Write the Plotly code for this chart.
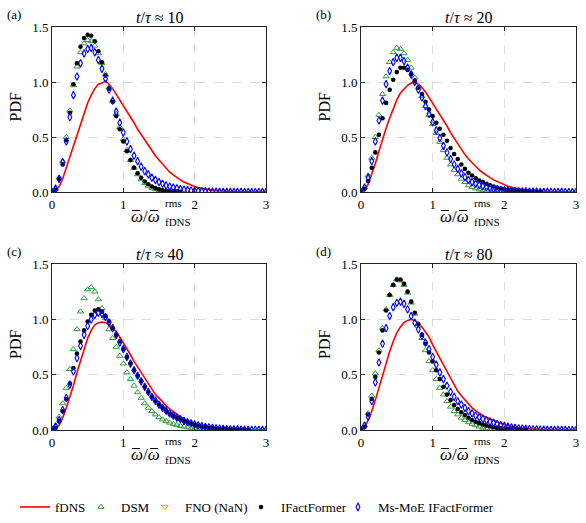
import plotly.graph_objects as go

# ---------------- data ----------------
X = [0.00, 0.05, 0.10, 0.15, 0.20, 0.25, 0.30, 0.35, 0.40, 0.45,
     0.50, 0.55, 0.60, 0.65, 0.70, 0.75, 0.80, 0.85, 0.90, 0.95,
     1.00, 1.05, 1.10, 1.15, 1.20, 1.25, 1.30, 1.35, 1.40, 1.45,
     1.50, 1.55, 1.60, 1.65, 1.70, 1.75, 1.80, 1.85, 1.90, 1.95,
     2.00, 2.05, 2.10, 2.15, 2.20, 2.25, 2.30, 2.35, 2.40, 2.45,
     2.50, 2.55, 2.60, 2.65, 2.70, 2.75, 2.80, 2.85, 2.90, 2.95,
     3.00]
N = None

TITLES = ["<i>t</i>/<i>τ</i> ≈ 10", "<i>t</i>/<i>τ</i> ≈ 20",
          "<i>t</i>/<i>τ</i> ≈ 40", "<i>t</i>/<i>τ</i> ≈ 80"]
PANEL_LABELS = ["(a)", "(b)", "(c)", "(d)"]
SERIES_NAMES = ["fDNS", "DSM", "FNO (NaN)", "IFactFormer", "Ms-MoE IFactFormer"]
X_TICKS = [0, 1, 2, 3]
Y_TICKS = [0.0, 0.5, 1.0, 1.5]
Y_TICKTEXT = ["0.0", "0.5", "1.0", "1.5"]

# ---- panel (a) t/tau ~ 10 ----
FDNS_A = [0.00, 0.01, 0.05, 0.12, 0.22, 0.32, 0.43, 0.53, 0.63, 0.72,
          0.81, 0.88, 0.94, 0.98, 0.99, 1.01, 0.98, 0.94, 0.89, 0.84,
          0.79, 0.74, 0.68, 0.63, 0.57, 0.52, 0.47, 0.42, 0.37, 0.33,
          0.29, 0.25, 0.21, 0.18, 0.155, 0.13, 0.11, 0.09, 0.075, 0.06,
          0.05, 0.04, 0.032, 0.025, 0.02, 0.015, 0.012, 0.009, 0.007, 0.005,
          0.004, 0.003, 0.003, 0.002, 0.002, 0.001, 0.001, 0.001, 0.001, 0.0,
          0.0]
DSM_A = [0.00, 0.03, 0.13, 0.28, 0.50, 0.74, 0.97, 1.14, 1.27, 1.35,
         1.38, 1.37, 1.33, 1.26, 1.17, 1.07, 0.95, 0.83, 0.71, 0.59,
         0.48, 0.38, 0.29, 0.22, 0.16, 0.115, 0.08, 0.055, 0.037, 0.024,
         0.015, 0.009, 0.005, 0.003, 0.002, 0.001, N, N, N, N,
         N, N, N, N, N, N, N, N, N, N,
         N, N, N, N, N, N, N, N, N, N,
         N]
IFF_A = [0.00, 0.02, 0.12, 0.25, 0.47, 0.72, 0.98, 1.17, 1.32, 1.40,
         1.43, 1.42, 1.37, 1.28, 1.18, 1.06, 0.94, 0.82, 0.69, 0.57,
         0.46, 0.37, 0.29, 0.22, 0.17, 0.13, 0.095, 0.07, 0.05, 0.035,
         0.024, 0.016, 0.01, 0.006, 0.004, 0.002, 0.001, N, N, N,
         N, N, N, N, N, N, N, N, N, N,
         N, N, N, N, N, N, N, N, N, N,
         N]
MOE_A = [0.00, 0.03, 0.12, 0.27, 0.46, 0.68, 0.88, 1.05, 1.17, 1.26,
         1.30, 1.31, 1.27, 1.20, 1.12, 1.03, 0.93, 0.83, 0.73, 0.63,
         0.54, 0.46, 0.39, 0.33, 0.28, 0.23, 0.19, 0.16, 0.13, 0.11,
         0.09, 0.075, 0.06, 0.05, 0.04, 0.033, 0.027, 0.022, 0.018, 0.014,
         0.011, 0.009, 0.007, 0.005, 0.004, 0.003, 0.003, 0.002, 0.002, 0.001,
         0.001, 0.001, 0.001, 0.001, 0.0, 0.0, 0.0, 0.0, 0.0, 0.0,
         0.0]

# ---- panel (b) t/tau ~ 20 ----
FDNS_B = [0.00, 0.02, 0.07, 0.16, 0.26, 0.37, 0.48, 0.58, 0.67, 0.75,
          0.84, 0.90, 0.94, 0.97, 0.99, 0.995, 0.98, 0.95, 0.91, 0.86,
          0.81, 0.76, 0.71, 0.65, 0.60, 0.54, 0.49, 0.43, 0.38, 0.34,
          0.30, 0.265, 0.23, 0.20, 0.175, 0.15, 0.13, 0.11, 0.095, 0.08,
          0.065, 0.053, 0.043, 0.035, 0.028, 0.022, 0.017, 0.013, 0.01, 0.008,
          0.006, 0.005, 0.004, 0.003, 0.002, 0.002, 0.001, 0.001, 0.001, 0.0,
          0.0]
DSM_B = [0.00, 0.04, 0.15, 0.31, 0.50, 0.70, 0.89, 1.05, 1.18, 1.27,
         1.31, 1.30, 1.26, 1.20, 1.13, 1.04, 0.95, 0.87, 0.78, 0.70,
         0.615, 0.535, 0.455, 0.38, 0.31, 0.25, 0.20, 0.16, 0.12, 0.09,
         0.06, 0.045, 0.032, 0.022, 0.015, 0.01, 0.006, 0.004, 0.002, 0.001,
         N, N, N, N, N, N, N, N, N, N,
         N, N, N, N, N, N, N, N, N, N,
         N]
IFF_B = [0.00, 0.03, 0.10, 0.22, 0.36, 0.52, 0.67, 0.81, 0.93, 1.02,
         1.09, 1.13, 1.13, 1.11, 1.07, 1.01, 0.95, 0.89, 0.82, 0.75,
         0.69, 0.63, 0.575, 0.52, 0.465, 0.40, 0.345, 0.30, 0.25, 0.21,
         0.175, 0.15, 0.125, 0.105, 0.09, 0.075, 0.062, 0.05, 0.04, 0.032,
         0.026, 0.021, 0.017, 0.013, 0.01, 0.008, 0.006, 0.004, 0.003, 0.002,
         0.001, N, N, N, N, N, N, N, N, N,
         N]
MOE_B = [0.00, 0.04, 0.13, 0.28, 0.46, 0.65, 0.83, 0.98, 1.10, 1.18,
         1.22, 1.22, 1.19, 1.13, 1.07, 1.00, 0.93, 0.86, 0.78, 0.71,
         0.635, 0.56, 0.49, 0.42, 0.36, 0.30, 0.25, 0.21, 0.17, 0.135,
         0.11, 0.09, 0.075, 0.063, 0.053, 0.044, 0.036, 0.03, 0.025, 0.02,
         0.016, 0.013, 0.011, 0.009, 0.007, 0.006, 0.005, 0.004, 0.003, 0.003,
         0.002, 0.002, 0.002, 0.001, 0.001, 0.001, 0.001, 0.0, 0.0, 0.0,
         0.0]

# ---- panel (c) t/tau ~ 40 ----
FDNS_C = [0.00, 0.01, 0.04, 0.11, 0.20, 0.29, 0.40, 0.52, 0.63, 0.73,
          0.83, 0.90, 0.95, 0.97, 0.975, 0.97, 0.95, 0.92, 0.89, 0.84,
          0.79, 0.74, 0.68, 0.62, 0.57, 0.51, 0.46, 0.41, 0.36, 0.32,
          0.29, 0.25, 0.22, 0.19, 0.165, 0.14, 0.12, 0.10, 0.085, 0.07,
          0.057, 0.046, 0.037, 0.03, 0.024, 0.019, 0.015, 0.012, 0.009, 0.007,
          0.005, 0.004, 0.003, 0.003, 0.002, 0.002, 0.001, 0.001, 0.001, 0.001,
          0.0]
DSM_C = [0.00, 0.04, 0.12, 0.24, 0.38, 0.55, 0.73, 0.91, 1.07, 1.19,
         1.27, 1.29, 1.25, 1.18, 1.10, 1.01, 0.91, 0.83, 0.75, 0.67,
         0.60, 0.52, 0.46, 0.40, 0.34, 0.29, 0.24, 0.20, 0.17, 0.14,
         0.115, 0.095, 0.08, 0.066, 0.055, 0.045, 0.037, 0.03, 0.024, 0.019,
         0.015, 0.011, 0.008, 0.006, 0.004, 0.003, 0.002, 0.001, N, N,
         N, N, N, N, N, N, N, N, N, N,
         N]
IFF_C = [0.00, 0.02, 0.08, 0.17, 0.28, 0.42, 0.56, 0.69, 0.80, 0.90,
         0.98, 1.04, 1.08, 1.09, 1.07, 1.03, 0.98, 0.92, 0.86, 0.80,
         0.73, 0.66, 0.60, 0.54, 0.49, 0.44, 0.39, 0.34, 0.30, 0.26,
         0.23, 0.20, 0.17, 0.145, 0.125, 0.11, 0.095, 0.08, 0.067, 0.056,
         0.047, 0.039, 0.032, 0.026, 0.021, 0.017, 0.014, 0.011, 0.009, 0.007,
         0.005, 0.004, 0.003, 0.002, 0.002, 0.001, N, N, N, N,
         N]
MOE_C = [0.00, 0.03, 0.09, 0.18, 0.29, 0.41, 0.53, 0.65, 0.76, 0.86,
         0.94, 1.00, 1.04, 1.06, 1.05, 1.02, 0.97, 0.92, 0.86, 0.79,
         0.73, 0.66, 0.60, 0.54, 0.49, 0.44, 0.39, 0.345, 0.30, 0.265,
         0.23, 0.20, 0.175, 0.15, 0.13, 0.112, 0.097, 0.083, 0.07, 0.06,
         0.05, 0.042, 0.035, 0.029, 0.024, 0.02, 0.016, 0.013, 0.011, 0.009,
         0.007, 0.006, 0.005, 0.004, 0.003, 0.002, 0.002, 0.001, 0.001, 0.001,
         0.0]

# ---- panel (d) t/tau ~ 80 ----
FDNS_D = [0.00, 0.02, 0.09, 0.17, 0.27, 0.38, 0.50, 0.61, 0.71, 0.80,
          0.88, 0.93, 0.97, 0.99, 1.00, 0.99, 0.965, 0.93, 0.89, 0.84,
          0.77, 0.71, 0.65, 0.58, 0.52, 0.46, 0.40, 0.35, 0.31, 0.27,
          0.235, 0.20, 0.175, 0.15, 0.13, 0.115, 0.10, 0.085, 0.07, 0.058,
          0.047, 0.038, 0.03, 0.024, 0.019, 0.015, 0.012, 0.009, 0.007, 0.005,
          0.004, 0.003, 0.003, 0.002, 0.002, 0.001, 0.001, 0.001, 0.001, 0.0,
          0.0]
DSM_D = [0.00, 0.04, 0.15, 0.31, 0.51, 0.72, 0.92, 1.09, 1.22, 1.31,
         1.36, 1.35, 1.31, 1.24, 1.15, 1.05, 0.94, 0.83, 0.72, 0.62,
         0.54, 0.46, 0.38, 0.32, 0.26, 0.21, 0.17, 0.14, 0.11, 0.09,
         0.07, 0.055, 0.042, 0.03, 0.02, 0.013, 0.008, 0.005, 0.003, 0.002,
         0.001, N, N, N, N, N, N, N, N, N,
         N, N, N, N, N, N, N, N, N, N,
         N]
IFF_D = [0.00, 0.03, 0.14, 0.28, 0.48, 0.70, 0.90, 1.08, 1.22, 1.31,
         1.36, 1.36, 1.32, 1.25, 1.16, 1.06, 0.96, 0.86, 0.78, 0.70,
         0.62, 0.54, 0.46, 0.39, 0.32, 0.27, 0.225, 0.19, 0.16, 0.135,
         0.11, 0.09, 0.075, 0.062, 0.05, 0.04, 0.032, 0.025, 0.02, 0.015,
         0.011, 0.008, 0.006, 0.004, 0.003, 0.002, 0.001, N, N, N,
         N, N, N, N, N, N, N, N, N, N,
         N]
MOE_D = [0.00, 0.04, 0.12, 0.26, 0.43, 0.61, 0.78, 0.92, 1.03, 1.11,
         1.15, 1.16, 1.14, 1.09, 1.03, 0.97, 0.91, 0.85, 0.79, 0.73,
         0.66, 0.59, 0.52, 0.46, 0.40, 0.345, 0.30, 0.26, 0.23, 0.20,
         0.17, 0.15, 0.13, 0.115, 0.10, 0.087, 0.075, 0.064, 0.054, 0.045,
         0.037, 0.03, 0.025, 0.02, 0.016, 0.013, 0.01, 0.008, 0.006, 0.005,
         0.004, 0.003, 0.002, 0.002, 0.001, 0.001, 0.001, 0.001, 0.0, 0.0,
         0.0]

PANELS = [
    (FDNS_A, DSM_A, IFF_A, MOE_A),
    (FDNS_B, DSM_B, IFF_B, MOE_B),
    (FDNS_C, DSM_C, IFF_C, MOE_C),
    (FDNS_D, DSM_D, IFF_D, MOE_D),
]

# ---------------- layout geometry (pixels) ----------------
W, H = 586, 523
FONT = "Liberation Serif"
RED = "#ff0000"
GREEN = "#2e9e3e"
ORANGE = "#f0a020"
BLACK = "#000000"
BLUE = "#0000ff"

# plot-area boxes in pixels: (left, right, top, bottom)
BOXES = [(52, 266, 27, 192), (361, 576, 27, 192),
         (52, 266, 264, 430), (361, 576, 264, 430)]
# legend entry left edges (pixels) and vertical centre
LEGEND_X = [15, 81, 145, 241, 338]
LEGEND_Y = 507


def px(xp):
    return xp / W


def py(yp):
    return 1 - yp / H


LEG_IDS = ["legend", "legend2", "legend3", "legend4", "legend5"]

fig = go.Figure()
for k, (fd, dsm, iff, moe) in enumerate(PANELS):
    sfx = "" if k == 0 else str(k + 1)
    xa, ya = "x" + sfx, "y" + sfx
    first = k == 0
    fig.add_trace(go.Scatter(x=X, y=fd, mode="lines", name=SERIES_NAMES[0],
                             line=dict(color=RED, width=1.6),
                             xaxis=xa, yaxis=ya, showlegend=first,
                             legend=LEG_IDS[0]))
    fig.add_trace(go.Scatter(x=X, y=dsm, mode="markers", name=SERIES_NAMES[1],
                             marker=dict(symbol="triangle-up-open", color=GREEN,
                                         size=5.5, line=dict(width=1.0)),
                             xaxis=xa, yaxis=ya, showlegend=first,
                             legend=LEG_IDS[1]))
    if first:
        fig.add_trace(go.Scatter(x=[None], y=[None], mode="markers",
                                 name=SERIES_NAMES[2],
                                 marker=dict(symbol="triangle-down-open",
                                             color=ORANGE, size=5.5,
                                             line=dict(width=1.0)),
                                 xaxis=xa, yaxis=ya, showlegend=True,
                                 legend=LEG_IDS[2]))
    fig.add_trace(go.Scatter(x=X, y=iff, mode="markers", name=SERIES_NAMES[3],
                             marker=dict(symbol="circle", color=BLACK, size=4.6),
                             xaxis=xa, yaxis=ya, showlegend=first,
                             legend=LEG_IDS[3]))
    fig.add_trace(go.Scatter(x=X, y=moe, mode="markers", name=SERIES_NAMES[4],
                             marker=dict(symbol="diamond-tall-open", color=BLUE,
                                         size=5.5, line=dict(width=1.1)),
                             xaxis=xa, yaxis=ya, showlegend=first,
                             legend=LEG_IDS[4]))

layout = dict(
    width=W, height=H,
    margin=dict(l=0, r=0, t=0, b=0, autoexpand=False),
    paper_bgcolor="white", plot_bgcolor="white",
    font=dict(family=FONT, size=13, color="black"),
    showlegend=True,
)
for lid, lx in zip(LEG_IDS, LEGEND_X):
    layout[lid] = dict(orientation="h", x=px(lx), xanchor="left",
                       y=py(LEGEND_Y), yanchor="middle",
                       font=dict(family=FONT, size=13, color="black"),
                       bgcolor="rgba(0,0,0,0)", borderwidth=0)

axis_common = dict(
    showline=True, linecolor="#222222", linewidth=1, mirror="ticks",
    ticks="inside", ticklen=4, tickwidth=1, tickcolor="#222222",
    showgrid=True, gridcolor="#dcdcdc", griddash="dash", gridwidth=1,
    zeroline=False, tickfont=dict(family=FONT, size=13, color="black"),
    fixedrange=True, automargin=False,
)

annotations = []
shapes = []
for k, (l, r, t, b) in enumerate(BOXES):
    sfx = "" if k == 0 else str(k + 1)
    layout["xaxis" + sfx] = dict(axis_common, domain=[px(l), px(r)],
                                 range=[0, 3], tickvals=X_TICKS,
                                 anchor="y" + sfx)
    layout["yaxis" + sfx] = dict(axis_common, domain=[py(b), py(t)],
                                 range=[0, 1.5], tickvals=Y_TICKS,
                                 ticktext=Y_TICKTEXT, anchor="x" + sfx)
    cx = (l + r) / 2
    # panel title
    annotations.append(dict(text=TITLES[k], x=px(cx), y=py(t - 10),
                            xref="paper", yref="paper", showarrow=False,
                            xanchor="center", yanchor="middle",
                            font=dict(family=FONT, size=16)))
    # panel label
    annotations.append(dict(text=PANEL_LABELS[k], x=px(l - 47), y=py(t - 12),
                            xref="paper", yref="paper", showarrow=False,
                            xanchor="left", yanchor="middle",
                            font=dict(family=FONT, size=13)))
    # y title
    annotations.append(dict(text="PDF", x=px(l - 37), y=py((t + b) / 2 - 2),
                            xref="paper", yref="paper", showarrow=False,
                            xanchor="center", yanchor="middle", textangle=-90,
                            font=dict(family=FONT, size=16)))
    # x title: omega/omega with macrons, plus stacked rms / fDNS
    xs = l + 110
    annotations.append(dict(text="<i>ω</i>/<i>ω</i>", x=px(xs), y=py(b + 24),
                            xref="paper", yref="paper", showarrow=False,
                            xanchor="right", yanchor="middle",
                            font=dict(family=FONT, size=17)))
    annotations.append(dict(text="rms", x=px(xs + 0.5), y=py(b + 11),
                            xref="paper", yref="paper", showarrow=False,
                            xanchor="left", yanchor="middle",
                            font=dict(family=FONT, size=11)))
    annotations.append(dict(text="fDNS", x=px(xs + 0.5), y=py(b + 30),
                            xref="paper", yref="paper", showarrow=False,
                            xanchor="left", yanchor="middle",
                            font=dict(family=FONT, size=11)))
    for (m0, m1) in [(xs - 30, xs - 22), (xs - 12, xs - 4)]:
        shapes.append(dict(type="line", xref="paper", yref="paper",
                           x0=px(m0), x1=px(m1), y0=py(b + 18.5),
                           y1=py(b + 18.5),
                           line=dict(color="black", width=1)))

layout["annotations"] = annotations
layout["shapes"] = shapes
fig.update_layout(**layout)
fig.write_html("out.html")
